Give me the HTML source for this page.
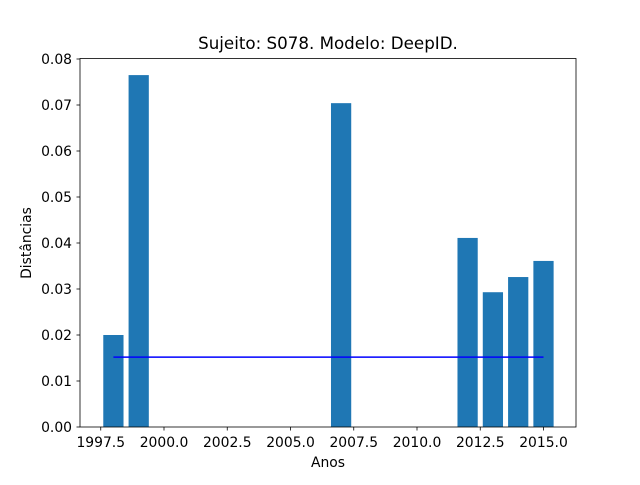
<!DOCTYPE html>
<html><head><meta charset="utf-8"><style>
html,body{margin:0;padding:0;background:#fff;}
svg text{font-family:"DejaVu Sans","Liberation Sans",sans-serif;fill:#000;}
</style></head><body>
<svg id="chart" width="640" height="480" xmlns="http://www.w3.org/2000/svg">
<rect width="640" height="480" fill="#fff"/>
<text x="328" y="49" font-size="16.7" text-anchor="middle">Sujeito: S078. Modelo: DeepID.</text>
<g id="bars"></g>
<g id="xticks"></g>
<g id="yticks"></g>
<line id="meanline" stroke="#0000ff" stroke-width="1.5"/>
<rect x="80" y="58.5" width="496" height="368.5" fill="none" stroke="#000" stroke-width="0.8"/>
<text x="328" y="467" font-size="13.9" text-anchor="middle">Anos</text>
<text x="31" y="243" font-size="13.9" text-anchor="middle" transform="rotate(-90 31 243)">Distâncias</text>
</svg>
<script>
const years = [1998, 1999, 2007, 2012, 2013, 2014, 2015];
const distances = [0.0200, 0.0765, 0.0704, 0.0411, 0.0293, 0.0326, 0.0361];
const threshold = 0.0152;
const thresholdRange = [1998, 2015];
const xTicks = [1997.5, 2000.0, 2002.5, 2005.0, 2007.5, 2010.0, 2012.5, 2015.0];
const yTicks = [0.00, 0.01, 0.02, 0.03, 0.04, 0.05, 0.06, 0.07, 0.08];

const NS = "http://www.w3.org/2000/svg";
function xs(v){ return 164.0 + (v - 2000) * 25.3; }
function ys(v){ return 427 - v * 4600; }

const gb = document.getElementById('bars');
years.forEach((y, i) => {
  const r = document.createElementNS(NS, 'rect');
  
  
  r.setAttribute('x', xs(y - 0.4));
  r.setAttribute('width', xs(y + 0.4) - xs(y - 0.4));
  r.setAttribute('y', ys(distances[i]));
  r.setAttribute('height', ys(0) - ys(distances[i]));
  r.setAttribute('fill', '#1f77b4');
  gb.appendChild(r);
});

const ml = document.getElementById('meanline');
ml.setAttribute('x1', xs(thresholdRange[0]));
ml.setAttribute('x2', xs(thresholdRange[1]));
ml.setAttribute('y1', ys(threshold));
ml.setAttribute('y2', ys(threshold));

const gx = document.getElementById('xticks');
xTicks.forEach(t => {
  const l = document.createElementNS(NS, 'line');
  
  
  l.setAttribute('x1', xs(t)); l.setAttribute('x2', xs(t));
  l.setAttribute('y1', 427); l.setAttribute('y2', 430.5);
  l.setAttribute('stroke', '#000'); l.setAttribute('stroke-width', '0.8');
  gx.appendChild(l);
  const tx = document.createElementNS(NS, 'text');
  
  
  tx.setAttribute('x', xs(t)); tx.setAttribute('y', 447);
  tx.setAttribute('font-size', '13.9'); tx.setAttribute('text-anchor', 'middle');
  tx.textContent = t.toFixed(1);
  gx.appendChild(tx);
});

const gy = document.getElementById('yticks');
yTicks.forEach(t => {
  const l = document.createElementNS(NS, 'line');
  
  
  l.setAttribute('x1', 76.5); l.setAttribute('x2', 80);
  l.setAttribute('y1', ys(t)); l.setAttribute('y2', ys(t));
  l.setAttribute('stroke', '#000'); l.setAttribute('stroke-width', '0.8');
  gy.appendChild(l);
  const tx = document.createElementNS(NS, 'text');
  
  
  tx.setAttribute('x', 72); tx.setAttribute('y', ys(t) + 5);
  tx.setAttribute('font-size', '13.9'); tx.setAttribute('text-anchor', 'end');
  tx.textContent = t.toFixed(2);
  gy.appendChild(tx);
});
</script>
</body></html>
